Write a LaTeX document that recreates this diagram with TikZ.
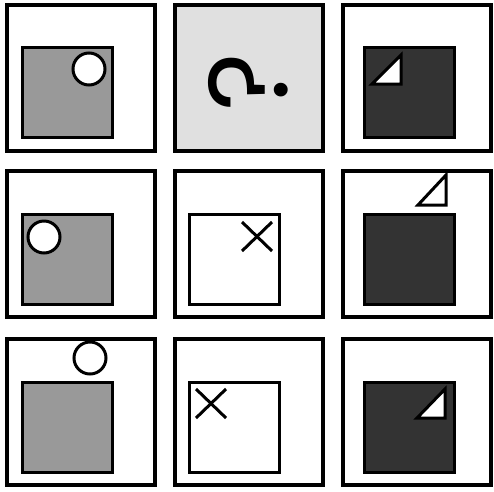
\documentclass[tikz,border=0pt]{standalone}
\usepackage{fontspec}
\newfontfamily\qfont{Poppins}
\usetikzlibrary{positioning}
\definecolor{qbg}{RGB}{224,224,224}
\definecolor{lgray}{RGB}{153,153,153}
\definecolor{dgray}{RGB}{51,51,51}
\tikzset{
  cell/.style={rectangle,draw=black,line width=4pt,fill=white,minimum width=148pt,minimum height=146pt,inner sep=0pt},
  qcell/.style={cell,fill=qbg,line width=3.5pt},
  tile/.style={rectangle,draw=black,line width=3pt,minimum size=90pt,inner sep=0pt},
  ring/.style={circle,draw=black,line width=3pt,fill=white,minimum size=32pt,inner sep=0pt},
  flag/.style={draw=black,line width=3pt,fill=white,line join=miter},
  crossline/.style={draw=black,line width=3pt},
  qmark/.style={font=\qfont\fontsize{112}{112}\selectfont,rotate=90,inner sep=0pt},
}
\begin{document}
\begin{tikzpicture}[x=1pt,y=-1pt]
\useasboundingbox (0,0) rectangle (494,491);
\fill[white] (0,0) rectangle (494,491);

% --- Row 1 ---
\node[cell] (c11) at (81,78) {};
\node[qcell] (c12) at (249,78) {};
\node[cell] (c13) at (416.5,78) {};
\node[tile,fill=lgray] (t11) at (67.5,92.5) {};
\node[ring] (r11) at (89,69) {};
\node[qmark] (q) at (248,82) {?};
\node[tile,fill=dgray] (t13) at (409,92.5) {};
\draw[flag] (372,84) -- (401,55) -- (401,84) -- cycle;

% --- Row 2 ---
\node[cell] (c21) at (81,244) {};
\node[cell] (c22) at (249,244) {};
\node[cell] (c23) at (416.5,244) {};
\node[tile,fill=lgray] (t21) at (67.5,259.5) {};
\node[ring] (r21) at (44,237) {};
\node[tile,fill=white] (t22) at (234.5,259.5) {};
\draw[crossline] (242,222) -- (272,251);
\draw[crossline] (242,251) -- (272,222);
\node[tile,fill=dgray] (t23) at (409,259.5) {};
\draw[flag] (418,205) -- (446,175) -- (446,205) -- cycle;

% --- Row 3 ---
\node[cell] (c31) at (81,411.5) {};
\node[cell] (c32) at (249,411.5) {};
\node[cell] (c33) at (416.5,411.5) {};
\node[tile,fill=lgray] (t31) at (67.5,427) {};
\node[ring] (r31) at (90,358) {};
\node[tile,fill=white] (t32) at (234.5,427) {};
\draw[crossline] (196,389) -- (226,418);
\draw[crossline] (196,418) -- (226,389);
\node[tile,fill=dgray] (t33) at (409,427) {};
\draw[flag] (417,418) -- (445,389) -- (445,418) -- cycle;
\end{tikzpicture}
\end{document}
